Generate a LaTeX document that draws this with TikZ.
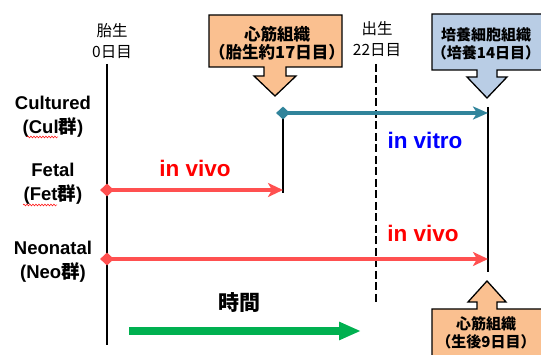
\documentclass[tikz,border=0pt]{standalone}
\usepackage{fontspec}
\setmainfont{Liberation Sans}
\newfontfamily\jp{Noto Sans CJK JP}
\usetikzlibrary{arrows.meta,shapes.geometric,decorations.pathmorphing}
\definecolor{boxorange}{HTML}{FAC090}
\definecolor{boxblue}{HTML}{B9CDE5}
\definecolor{arrred}{HTML}{FF5050}
\definecolor{arrteal}{HTML}{31849B}
\definecolor{arrgreen}{HTML}{00B050}
\begin{document}
\begin{tikzpicture}[x=1pt,y=-1pt,
  timeline/.style={line width=2.5pt,black},
  grouplabel/.style={align=center,font=\bfseries\fontsize{18.5}{24}\selectfont},
  daylabel/.style={align=center,font=\jp\fontsize{15.5}{21}\selectfont},
  calloutbox/.style={draw=black,line width=1.3pt,line join=miter},
  callouttext/.style={align=center,font=\jp\bfseries\fontsize{16.5}{18.5}\selectfont},
  narrowtext/.style={callouttext,font=\jp\bfseries\fontsize{15}{18.5}\selectfont},
  redarrow/.style={line width=4pt,arrred,-{Stealth[length=15pt,width=14pt,inset=4pt]}},
  tealarrow/.style={line width=4pt,arrteal,-{Stealth[length=15pt,width=13pt,inset=4pt]}},
  startdiamond/.style={diamond,fill=#1,inner sep=0pt,minimum width=14pt,minimum height=13pt},
  vivotext/.style={font=\bfseries\fontsize{22.5}{26}\selectfont,text=red},
  squiggle/.style={red,line width=0.5pt,decorate,decoration={snake,amplitude=0.9pt,segment length=3pt}}
]
\useasboundingbox (0,0) rectangle (541,355);

% callout boxes
\draw[calloutbox,fill=boxorange] (209,15) -- (342,15) -- (342,67) -- (286,67) -- (286,76) -- (296,76) -- (275,96) -- (254,76) -- (264,76) -- (264,67) -- (209,67) -- cycle;
\draw[calloutbox,fill=boxblue] (432,14) -- (545,14) -- (545,70) -- (497,70) -- (497,77) -- (507,77) -- (487,98) -- (467,77) -- (477,77) -- (477,70) -- (432,70) -- cycle;
\draw[calloutbox,fill=boxorange] (432,360) -- (432,309) -- (477,309) -- (477,302) -- (468,302) -- (487,281) -- (506,302) -- (497,302) -- (497,309) -- (545,309) -- (545,360);
\node[callouttext] (c1) at (277,43) {心筋組織\\（胎生約17日目）};
\node[narrowtext] (c2) at (486,44) {培養細胞組織\\（培養14日目）};
\node[narrowtext] (c3) at (486,333) {心筋組織\\（生後9日目）};

% day labels
\node[daylabel] (d0) at (112,41) {胎生\\0日目};
\node[daylabel] (d22) at (377,39) {出生\\22日目};

% group labels
\node[grouplabel] (cul) at (53,117) {Cultured\\(Cul{\jp\bfseries 群})};
\node[grouplabel] (fet) at (53,184) {Fetal\\(Fet{\jp\bfseries 群})};
\node[grouplabel] (neo) at (53,262) {Neonatal\\(Neo{\jp\bfseries 群})};
\draw[squiggle] (27,137) -- (58,137);
\draw[squiggle] (23,205) -- (57,205);

% timeline coordinates
\coordinate (mtop) at (107,64);
\coordinate (mbot) at (107,345);
\coordinate (btop) at (376,64);
\coordinate (bbot) at (376,302);
\coordinate (v1top) at (283,113);
\coordinate (v1bot) at (283,193);
\coordinate (v2top) at (488,107);
\coordinate (v2bot) at (488,272);
\coordinate (fetend) at (283,190);
\coordinate (neoend) at (488,259);
\coordinate (teal end) at (488,113);
\coordinate (gstart) at (129,331);
\coordinate (gend) at (361,331);

\draw[timeline] (mtop) -- (mbot);
\draw[line width=2.5pt,dash pattern=on 8pt off 3.5pt] (btop) -- (bbot);
\draw[line width=2pt] (v1top) -- (v1bot);
\draw[line width=2pt] (v2top) -- (v2bot);

% arrows
\node[startdiamond=arrred] (fetstart) at (107,190) {};
\node[startdiamond=arrred] (neostart) at (107,259) {};
\node[startdiamond=arrteal] (tealstart) at (283,113) {};
\draw[redarrow] (fetstart.center) -- (fetend);
\draw[redarrow] (neostart.center) -- (neoend);
\draw[tealarrow] (tealstart.center) -- (teal end);
\draw[line width=8pt,arrgreen,-{Triangle[length=22pt,width=17pt]}] (gstart) -- (gend);

% texts
\node[vivotext] (vivo1) at (195,168) {in vivo};
\node[vivotext,text=blue] (vitro) at (425,140) {in vitro};
\node[vivotext] (vivo2) at (423,233) {in vivo};
\node[font=\jp\bfseries\fontsize{21}{24}\selectfont] (time) at (239,303) {時間};
\end{tikzpicture}
\end{document}
